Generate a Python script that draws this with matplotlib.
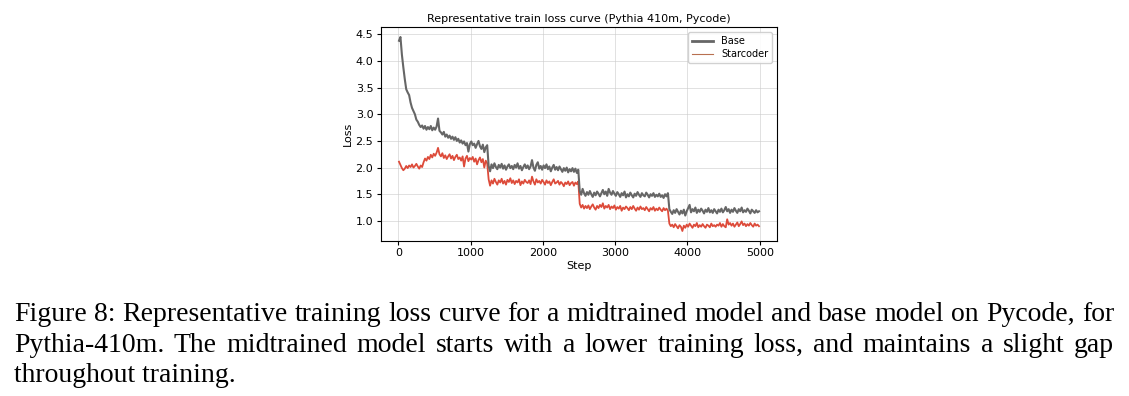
import matplotlib
matplotlib.use("Agg")
import matplotlib.pyplot as plt
from matplotlib.lines import Line2D

# ---------------- data ----------------
steps = list(range(10, 5000, 20))  # 250 logged steps

base_loss = [
    4.38, 4.45, 4.12, 3.88, 3.66, 3.47, 3.41, 3.36, 3.22, 3.12,
    3.06, 3.00, 2.90, 2.86, 2.80, 2.76, 2.79, 2.73, 2.78, 2.71,
    2.76, 2.72, 2.78, 2.70, 2.75, 2.71, 2.77, 2.92, 2.69, 2.66,
    2.62, 2.67, 2.58, 2.62, 2.56, 2.60, 2.54, 2.58, 2.52, 2.57,
    2.50, 2.54, 2.47, 2.51, 2.45, 2.49, 2.42, 2.46, 2.30, 2.44,
    2.49, 2.42, 2.45, 2.37, 2.44, 2.50, 2.40, 2.35, 2.43, 2.29,
    2.38, 2.42,
    2.03, 1.93, 2.06, 1.99, 2.08, 2.01, 1.97, 2.05,
    2.00, 2.07, 1.98, 2.04, 1.96, 2.02, 2.06, 1.99, 2.03, 1.97,
    2.05, 2.00, 2.08, 1.98, 2.03, 1.95, 2.01, 2.06, 1.99, 2.04,
    1.97, 2.02, 2.14, 2.00, 1.94, 2.05, 2.10, 1.98, 2.03, 1.96,
    2.04, 1.99, 2.06, 1.97, 2.02, 1.93, 2.00, 2.05, 1.96, 2.01,
    1.95, 2.02, 1.97, 1.92, 1.99, 1.94, 2.00, 1.91, 1.97, 1.93,
    1.99, 1.92, 1.98, 1.90, 1.96,
    1.56, 1.49, 1.60, 1.52, 1.47,
    1.54, 1.49, 1.56, 1.50, 1.45, 1.53, 1.48, 1.55, 1.51, 1.46,
    1.52, 1.58, 1.50, 1.55, 1.47, 1.60, 1.53, 1.49, 1.56, 1.51,
    1.47, 1.54, 1.50, 1.45, 1.52, 1.48, 1.55, 1.44, 1.50, 1.46,
    1.53, 1.48, 1.44, 1.51, 1.47, 1.54, 1.49, 1.45, 1.52, 1.48,
    1.46, 1.53, 1.49, 1.44, 1.50, 1.47, 1.52, 1.45, 1.49, 1.46,
    1.51, 1.45, 1.48, 1.43, 1.50, 1.46, 1.52,
    1.22, 1.17, 1.13,
    1.20, 1.15, 1.22, 1.17, 1.12, 1.19, 1.14, 1.21, 1.10, 1.18,
    1.24, 1.30, 1.16, 1.22, 1.18, 1.25, 1.15, 1.21, 1.17, 1.23,
    1.19, 1.14, 1.21, 1.17, 1.24, 1.16, 1.20, 1.15, 1.22, 1.18,
    1.14, 1.21, 1.17, 1.23, 1.16, 1.20, 1.26, 1.18, 1.22, 1.15,
    1.21, 1.17, 1.24, 1.19, 1.15, 1.22, 1.18, 1.25, 1.16, 1.20,
    1.17, 1.23, 1.19, 1.14, 1.21, 1.18, 1.15, 1.20, 1.16, 1.18,
]

starcoder_loss = [
    2.11, 2.05, 1.99, 1.95, 1.98, 2.03, 1.99, 2.04, 2.01, 2.06,
    2.00, 2.03, 2.07, 2.02, 1.98, 2.04, 2.01, 2.10, 2.17, 2.13,
    2.20, 2.16, 2.24, 2.19, 2.26, 2.22, 2.28, 2.37, 2.25, 2.21,
    2.27, 2.18, 2.23, 2.16, 2.21, 2.25, 2.17, 2.22, 2.14, 2.20,
    2.24, 2.16, 2.19, 2.13, 2.21, 2.02, 2.17, 2.22, 2.12, 2.18,
    2.15, 2.20, 2.11, 2.17, 2.06, 2.14, 2.19, 2.10, 2.16, 2.00,
    2.13, 2.08,
    1.78, 1.66, 1.76, 1.70, 1.79, 1.73, 1.68, 1.76,
    1.72, 1.79, 1.70, 1.75, 1.68, 1.77, 1.73, 1.80, 1.71, 1.76,
    1.69, 1.75, 1.72, 1.78, 1.67, 1.74, 1.70, 1.77, 1.73, 1.71,
    1.76, 1.69, 1.83, 1.74, 1.68, 1.78, 1.72, 1.75, 1.70, 1.77,
    1.73, 1.68, 1.76, 1.71, 1.74, 1.67, 1.73, 1.78, 1.70, 1.72,
    1.75, 1.68, 1.73, 1.70, 1.65, 1.72, 1.69, 1.74, 1.67, 1.71,
    1.73, 1.66, 1.72, 1.69, 1.74,
    1.32, 1.25, 1.30, 1.23, 1.28,
    1.24, 1.29, 1.22, 1.27, 1.31, 1.25, 1.21, 1.28, 1.24, 1.30,
    1.26, 1.33, 1.23, 1.28, 1.25, 1.30, 1.22, 1.27, 1.24, 1.29,
    1.21, 1.26, 1.23, 1.28, 1.19, 1.25, 1.22, 1.27, 1.24, 1.20,
    1.26, 1.22, 1.28, 1.23, 1.19, 1.25, 1.21, 1.27, 1.22, 1.24,
    1.20, 1.26, 1.22, 1.18, 1.24, 1.21, 1.26, 1.19, 1.23, 1.20,
    1.25, 1.21, 1.18, 1.24, 1.20, 1.23, 1.19,
    0.95, 0.90, 0.93,
    0.88, 0.94, 0.90, 0.86, 0.92, 0.89, 0.81, 0.91, 0.87, 0.93,
    0.89, 0.95, 0.91, 0.87, 0.93, 0.90, 0.96, 0.88, 0.92, 0.89,
    0.94, 0.90, 0.87, 0.93, 0.91, 0.88, 0.95, 0.90, 0.92, 0.89,
    0.93, 0.91, 0.96, 0.89, 0.94, 0.90, 0.88, 1.03, 0.93, 0.96,
    0.91, 0.95, 0.89, 0.93, 0.97, 0.90, 0.94, 0.99, 0.92, 0.95,
    0.90, 0.94, 0.91, 0.96, 0.92, 0.89, 0.95, 0.91, 0.93, 0.90,
]

series_names = ["Base", "Starcoder"]
title = "Representative train loss curve (Pythia 410m, Pycode)"
caption_lines = [
    "Figure 8: Representative training loss curve for a midtrained model and base model on Pycode, for",
    "Pythia-410m.  The midtrained model starts with a lower training loss, and maintains a slight gap",
    "throughout training.",
]

# ---------------- figure ----------------
W, H = 1129, 396
fig = plt.figure(figsize=(W / 100, H / 100), dpi=100)
ax = fig.add_axes([381 / W, 1 - 240.7 / H, (777 - 381) / W, (240.7 - 27.3) / H])

base_color = "#666666"
star_color = "#dd4b3a"
ax.plot(steps, base_loss, color=base_color, lw=1.5, zorder=3)
ax.plot(steps, starcoder_loss, color=star_color, lw=1.3, zorder=2)

ax.set_title(title, fontsize=8, pad=4)
ax.set_xlabel("Step", fontsize=8, labelpad=2)
ax.set_ylabel("Loss", fontsize=8, labelpad=2)
ax.tick_params(labelsize=8, length=3, pad=2.5)
ax.set_xticks([0, 1000, 2000, 3000, 4000, 5000])
ax.set_yticks([1.0, 1.5, 2.0, 2.5, 3.0, 3.5, 4.0, 4.5])
ax.grid(True, color="#cccccc", alpha=0.6, lw=0.7)
ax.set_axisbelow(True)

handles = [Line2D([], [], color=base_color, lw=2.0),
           Line2D([], [], color="#b87050", lw=0.8)]
ax.legend(handles, series_names, fontsize=7, loc="upper right",
          handlelength=2.2, borderpad=0.4, labelspacing=0.3, framealpha=0.9)

# ---------------- caption (justified) ----------------
renderer = fig.canvas.get_renderer()
left_px, right_px = 14, 1114
baselines = [321, 352, 382]
cap_kw = dict(fontsize=20, family="Liberation Serif", va="baseline", ha="left")
for li, (line, yb) in enumerate(zip(caption_lines, baselines)):
    y = 1 - yb / H
    words = line.split()
    if li == len(caption_lines) - 1:
        fig.text(left_px / W, y, line, **cap_kw)
        continue
    tmp = [fig.text(0, 0, w, **cap_kw) for w in words]
    widths = [t.get_window_extent(renderer).width for t in tmp]
    for t in tmp:
        t.remove()
    gap = (right_px - left_px - sum(widths)) / (len(words) - 1)
    x = left_px
    for w, wd in zip(words, widths):
        fig.text(x / W, y, w, **cap_kw)
        x += wd + gap

fig.savefig("out.png", dpi=100)
